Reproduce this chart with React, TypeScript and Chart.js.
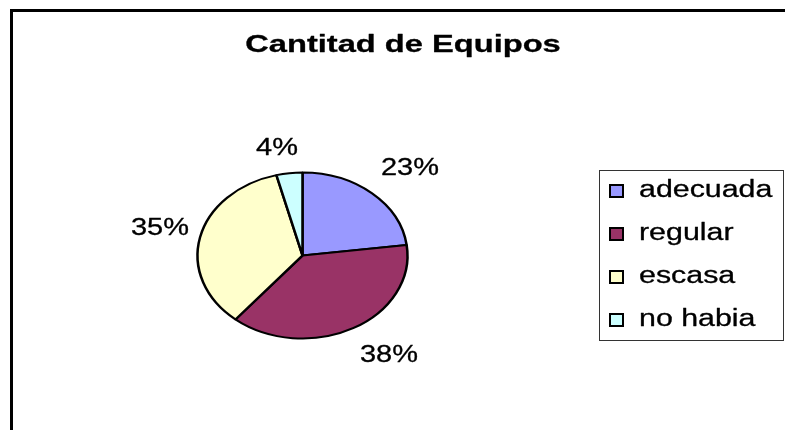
import React, { useEffect, useRef } from "react";
import { Chart, registerables } from "chart.js";

Chart.register(...registerables);

const TITLE = "Cantitad de Equipos";
const CATEGORIES = ["adecuada", "regular", "escasa", "no habia"];
const VALUES = [23, 38, 35, 4];
const COLORS = ["#9999FF", "#993366", "#FFFFCC", "#CCFFFF"];
const PERCENT_LABELS = ["23%", "38%", "35%", "4%"];

const FONT = '"Liberation Sans", Arial, sans-serif';
const PIE_STRETCH = 1.265;

function drawStretched(
  ctx: CanvasRenderingContext2D,
  text: string,
  x: number,
  y: number,
  font: string,
  sx: number,
  align: CanvasTextAlign,
  weight: number
) {
  ctx.save();
  ctx.font = font;
  ctx.fillStyle = "#000";
  ctx.strokeStyle = "#000";
  ctx.textAlign = align;
  ctx.textBaseline = "alphabetic";
  ctx.translate(x, y);
  ctx.scale(sx, 1);
  ctx.fillText(text, 0, 0);
  if (weight > 0) {
    ctx.lineWidth = weight;
    ctx.lineJoin = "round";
    ctx.strokeText(text, 0, 0);
  }
  ctx.restore();
}

const framePlugin = {
  id: "frame",
  beforeDraw(chart: any) {
    const ctx = chart.ctx as CanvasRenderingContext2D;
    ctx.save();
    ctx.fillStyle = "#fff";
    ctx.fillRect(0, 0, chart.width, chart.height);
    ctx.fillStyle = "#000";
    ctx.fillRect(10, 9, chart.width, 3);
    ctx.fillRect(10, 9, 3, chart.height);
    ctx.restore();
  },
};

const stretchPlugin = {
  id: "stretch",
  beforeDatasetsDraw(chart: any) {
    const ctx = chart.ctx as CanvasRenderingContext2D;
    const arc = chart.getDatasetMeta(0).data[0];
    ctx.save();
    ctx.translate(arc.x, arc.y);
    ctx.scale(PIE_STRETCH, 1);
    ctx.translate(-arc.x, -arc.y);
  },
  afterDatasetsDraw(chart: any) {
    chart.ctx.restore();
  },
};

// positions of percentage labels: [centerX, baseline]
const LABEL_POS: [number, number][] = [
  [410, 175],
  [389, 362],
  [160, 235],
  [277, 155],
];

const textPlugin = {
  id: "texts",
  afterDraw(chart: any) {
    const ctx = chart.ctx as CanvasRenderingContext2D;
    // title
    drawStretched(ctx, TITLE, 403, 52, `bold 24px ${FONT}`, 1.36, "center", 0.3);
    // percentage labels
    PERCENT_LABELS.forEach((t, i) => {
      const [x, y] = LABEL_POS[i];
      drawStretched(ctx, t, x, y, `23px ${FONT}`, 1.26, "center", 0.3);
    });
    // legend box
    ctx.save();
    ctx.strokeStyle = "#333";
    ctx.lineWidth = 1;
    ctx.strokeRect(599.5, 170.5, 184, 170);
    ctx.restore();
    const labels = chart.data.labels as string[];
    const colors = chart.data.datasets[0].backgroundColor as string[];
    labels.forEach((lab, i) => {
      const base = 197 + i * 43;
      ctx.save();
      ctx.fillStyle = colors[i];
      ctx.fillRect(610, base - 12, 13, 12);
      ctx.strokeStyle = "#000";
      ctx.lineWidth = 2;
      ctx.strokeRect(610, base - 12, 13, 12);
      ctx.restore();
      drawStretched(ctx, lab, 639, base, `23px ${FONT}`, 1.32, "left", 0.3);
    });
  },
};

export default function App() {
  const ref = useRef<HTMLCanvasElement | null>(null);
  useEffect(() => {
    if (!ref.current) return;
    const chart = new Chart(ref.current, {
      type: "pie",
      data: {
        labels: CATEGORIES,
        datasets: [
          {
            data: VALUES,
            backgroundColor: COLORS,
            borderColor: "#000",
            borderWidth: 2,
          },
        ],
      },
      options: {
        animation: false,
        responsive: false,
        devicePixelRatio: 1,
        layout: {
          padding: { left: 218.5, right: 398.5, top: 171.5, bottom: 90.5 },
        },
        plugins: {
          legend: { display: false },
          title: { display: false },
          tooltip: { enabled: false },
        },
      },
      plugins: [framePlugin, stretchPlugin, textPlugin],
    });
    return () => chart.destroy();
  }, []);
  return (
    <div style={{ position: "absolute", left: 0, top: 0, width: 785, height: 430, overflow: "hidden" }}>
      <canvas ref={ref} width={785} height={430} style={{ display: "block", width: 785, height: 430 }} />
    </div>
  );
}
